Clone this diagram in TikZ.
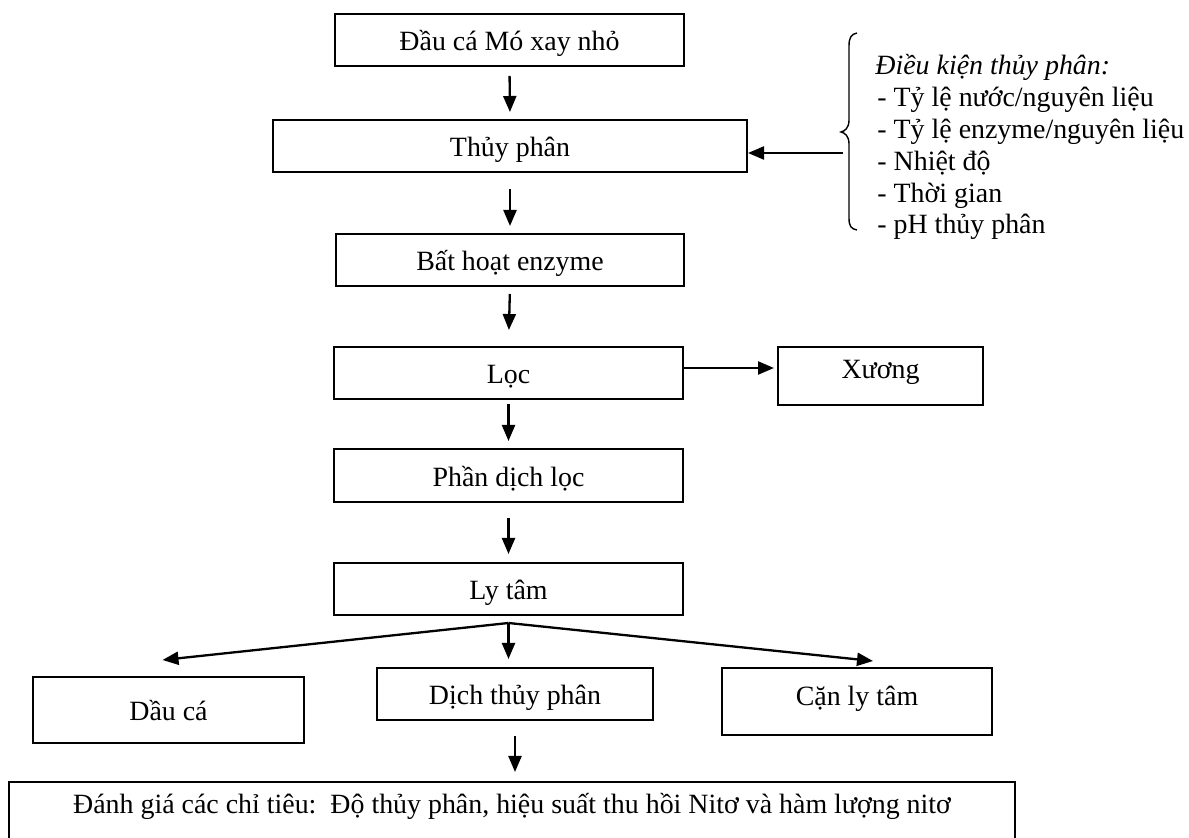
\documentclass[tikz,border=0pt]{standalone}
\usepackage{fontspec}
\setmainfont{Liberation Serif}
\usetikzlibrary{arrows.meta}
\begin{document}
\begin{tikzpicture}[x=0.5pt,y=-0.5pt,
  font=\fontsize{13.95}{16}\selectfont,
  box/.style={draw, line width=1pt, inner sep=0pt, text height=14pt, text depth=3pt},
  arr/.style={line width=1.15pt, -{Triangle[length=8pt,width=6.5pt]}},
  txt/.style={inner sep=0pt, text height=14pt, text depth=3pt},
  cond/.style={inner sep=0pt, anchor=base west}]
\useasboundingbox (0,0) rectangle (1189,838);
\clip (0,0) rectangle (1189,838);
% main column
\node[box, minimum width=174.5pt, minimum height=26pt] (b1) at (509.5,40) {Đầu cá Mó xay nhỏ};
\node[box, minimum width=237pt, minimum height=26pt] (b2) at (510,146) {Thủy phân};
\node[box, minimum width=174pt, minimum height=26pt] (b3) at (510,260) {Bất hoạt enzyme};
\node[box, minimum width=174.5pt, minimum height=26pt] (loc) at (508.5,373) {Lọc};
\node[box, minimum width=102.5pt, minimum height=29pt] (xuong) at (880.5,376) {};
\node[txt] (xuongt) at (880.5,368) {Xương};
\node[box, minimum width=174.5pt, minimum height=26.5pt] (phan) at (508.5,475.5) {Phần dịch lọc};
\node[box, minimum width=174.5pt, minimum height=26pt] (ly) at (508.5,589) {Ly tâm};
\node[box, minimum width=135.5pt, minimum height=33pt] (dau) at (168.5,710) {Dầu cá};
\node[box, minimum width=138pt, minimum height=26pt] (dich) at (515,694) {Dịch thủy phân};
\node[box, minimum width=135pt, minimum height=33.5pt] (can) at (857,701.5) {};
\node[txt] (cant) at (857,695) {Cặn ly tâm};
\node[box, minimum width=503pt, minimum height=44pt] (final) at (512,826) {};
\node[txt] (finalt) at (512,803) {Đánh giá các chỉ tiêu:\ \ Độ thủy phân, hiệu suất thu hồi Nitơ và hàm lượng nitơ};
% conditions
\node[cond] (c0) at (875,75) {\itshape Điều kiện thủy phân:};
\node[cond] (c1) at (877,107) {- Tỷ lệ nước/nguyên liệu};
\node[cond] (c2) at (877,139) {- Tỷ lệ enzyme/nguyên liệu};
\node[cond] (c3) at (877,171) {- Nhiệt độ};
\node[cond] (c4) at (877,203) {- Thời gian};
\node[cond] (c5) at (877,234) {- pH thủy phân};
\draw[line width=0.7pt] (857,33) .. controls (851,34) and (849,38) .. (849,46) -- (849,120)
  .. controls (849,128) and (845,131) .. (841,132) .. controls (845,133) and (849,136) .. (849,144)
  -- (849,218) .. controls (849,226) and (851,229) .. (857,230);
\coordinate (bracept) at (843,153);
\draw[arr] (bracept) -- (bracept -| b2.east);
% arrows
\draw[arr, shorten <=4.5pt, shorten >=3.5pt] (b1.south) -- (b2.north);
\draw[arr, shorten <=8pt, shorten >=3.5pt] (b2.south) -- (b3.north);
\draw[arr, shorten <=3.5pt, shorten >=8pt] (b3.south) -- (loc.north);
\draw[arr, shorten <=2pt, shorten >=3.5pt] (loc.south) -- (phan.north);
\draw[arr, shorten <=7.5pt, shorten >=4pt] (phan.south) -- (ly.north);
\draw[arr, shorten >=1.5pt] ([yshift=2.5pt]loc.east) -- ([yshift=4pt]xuong.west);
\coordinate (split) at ([yshift=-3.5pt]ly.south);
\draw[arr] (split) -- ([shift={(-6,-16)}]dau.north);
\draw[arr, shorten >=4pt] (split) -- (split |- dich.north);
\draw[arr] (split) -- ([shift={(16,-6)}]can.north);
\draw[arr, shorten <=7.5pt, shorten >=4.5pt] (dich.south) -- (dich.south |- final.north);
\end{tikzpicture}
\end{document}
